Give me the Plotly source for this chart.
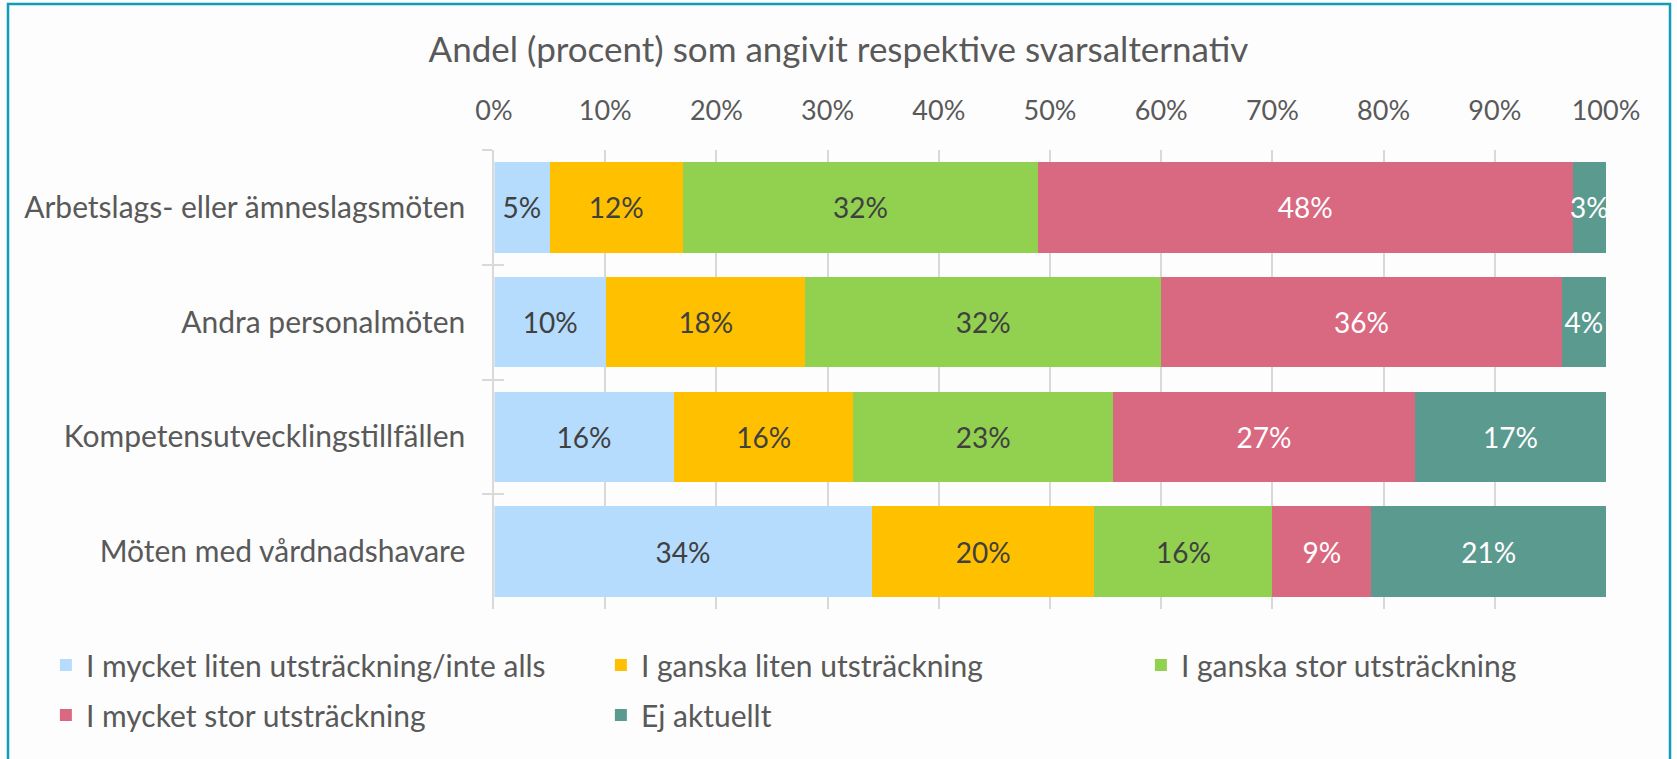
import plotly.graph_objects as go

categories = [
    "Arbetslags- eller ämneslagsmöten",
    "Andra personalmöten",
    "Kompetensutvecklingstillfällen",
    "Möten med vårdnadshavare",
]
series_names = [
    "I mycket liten utsträckning/inte alls",
    "I ganska liten utsträckning",
    "I ganska stor utsträckning",
    "I mycket stor utsträckning",
    "Ej aktuellt",
]
s1 = [5.0, 10.1, 16.2, 34.0]
s2 = [12.0, 17.9, 16.1, 20.0]
s3 = [31.9, 32.0, 23.4, 16.0]
s4 = [48.1, 36.0, 27.1, 8.9]
s5 = [3.0, 4.0, 17.2, 21.1]
series_values = [s1, s2, s3, s4, s5]
colors = ["#B5DCFD", "#FFC000", "#92D050", "#D96981", "#5B9A8F"]
text_colors = ["#404040", "#404040", "#404040", "#FFFFFF", "#FFFFFF"]
x_ticks = [0, 10, 20, 30, 40, 50, 60, 70, 80, 90, 100]
title_text = "Andel (procent) som angivit respektive svarsalternativ"

W, H = 1677, 759
ML, MR, MT, MB = 494, 71, 150, 150
FONT = "Lato"
GRAY = "#595959"
FS = 30

legend_of = ["legend", "legend2", "legend3", "legend", "legend2"]

fig = go.Figure()
for i, (name, vals) in enumerate(zip(series_names, series_values)):
    fig.add_trace(go.Bar(
        y=categories, x=vals, name=name, orientation="h",
        marker=dict(color=colors[i], line=dict(width=0)),
        texttemplate="%{x:.0f}%", textposition="inside",
        insidetextanchor="middle", textangle=0,
        insidetextfont=dict(color=text_colors[i], size=28, family=FONT),
        constraintext="none", cliponaxis=True,
        legend=legend_of[i], legendgroup=str(i),
        hoverinfo="skip",
    ))

# invisible helper trace so the secondary category axis (inner tick halves) is drawn
fig.add_trace(go.Bar(
    y=categories, x=[0] * len(categories), orientation="h", yaxis="y2",
    marker=dict(color="rgba(0,0,0,0)"), showlegend=False, hoverinfo="skip",
))

pw = W - ML - MR
ph = H - MT - MB
def px2x(p):
    return (p - ML) / pw
def py2y(p):
    return 1 - (p - MT) / ph

leg_common = dict(
    orientation="v", xref="container", yref="container",
    xanchor="left", yanchor="top", bgcolor="rgba(0,0,0,0)",
    font=dict(family=FONT, size=FS, color=GRAY), tracegroupgap=8,
    itemwidth=30, borderwidth=0,
)
LEG_TOP = 1 - 639 / H

fig.update_layout(
    width=W, height=H,
    margin=dict(l=ML, r=MR, t=MT, b=MB, pad=0, autoexpand=False),
    paper_bgcolor="#FDFDFD", plot_bgcolor="#FDFDFD",
    barmode="stack", bargap=0.21,
    font=dict(family=FONT, size=FS, color=GRAY),
    uniformtext=dict(minsize=28, mode="show"),
    title=dict(text=title_text, x=0.5, xref="container", xanchor="center",
               y=1 - 50 / H, yref="container", yanchor="middle",
               font=dict(family=FONT, size=35, color=GRAY)),
    xaxis=dict(range=[0, 100], side="top", tickvals=x_ticks,
               ticktext=[f"{t}%" for t in x_ticks],
               showgrid=True, gridcolor="#D9D9D9", gridwidth=1.5,
               zeroline=False, showline=False, ticks="",
               ticklabelstandoff=24, automargin=False,
               tickfont=dict(family=FONT, size=27, color=GRAY),
               fixedrange=True),
    yaxis=dict(autorange="reversed", categoryorder="array",
               categoryarray=categories, showline=True,
               linecolor="#D9D9D9", linewidth=1.5,
               ticks="outside", tickson="boundaries", ticklen=10,
               tickcolor="#D9D9D9", tickwidth=1.5,
               ticklabelstandoff=21, showgrid=False, automargin=False,
               tickfont=dict(family=FONT, size=FS, color=GRAY),
               fixedrange=True),
    yaxis2=dict(overlaying="y", side="left", anchor="x",
                autorange="reversed", categoryorder="array",
                categoryarray=categories, showline=False,
                ticks="inside", tickson="boundaries", ticklen=10,
                tickcolor="#D9D9D9", tickwidth=1.5,
                showticklabels=False, showgrid=False, zeroline=False,
                automargin=False, fixedrange=True),
    legend=dict(leg_common, x=66 / W - 0.012, y=LEG_TOP),
    legend2=dict(leg_common, x=621 / W - 0.012, y=LEG_TOP),
    legend3=dict(leg_common, x=1161 / W - 0.012, y=LEG_TOP),
    showlegend=True,
)

fig.add_shape(type="rect", xref="paper", yref="paper",
              x0=px2x(8), x1=px2x(1670), y0=py2y(4), y1=py2y(770),
              line=dict(color="#119DB8", width=2.5), fillcolor="rgba(0,0,0,0)",
              layer="above")

fig.write_html("out.html", config={"displayModeBar": False},
               post_script="document.body.style.margin='0';document.body.style.padding='0';")
